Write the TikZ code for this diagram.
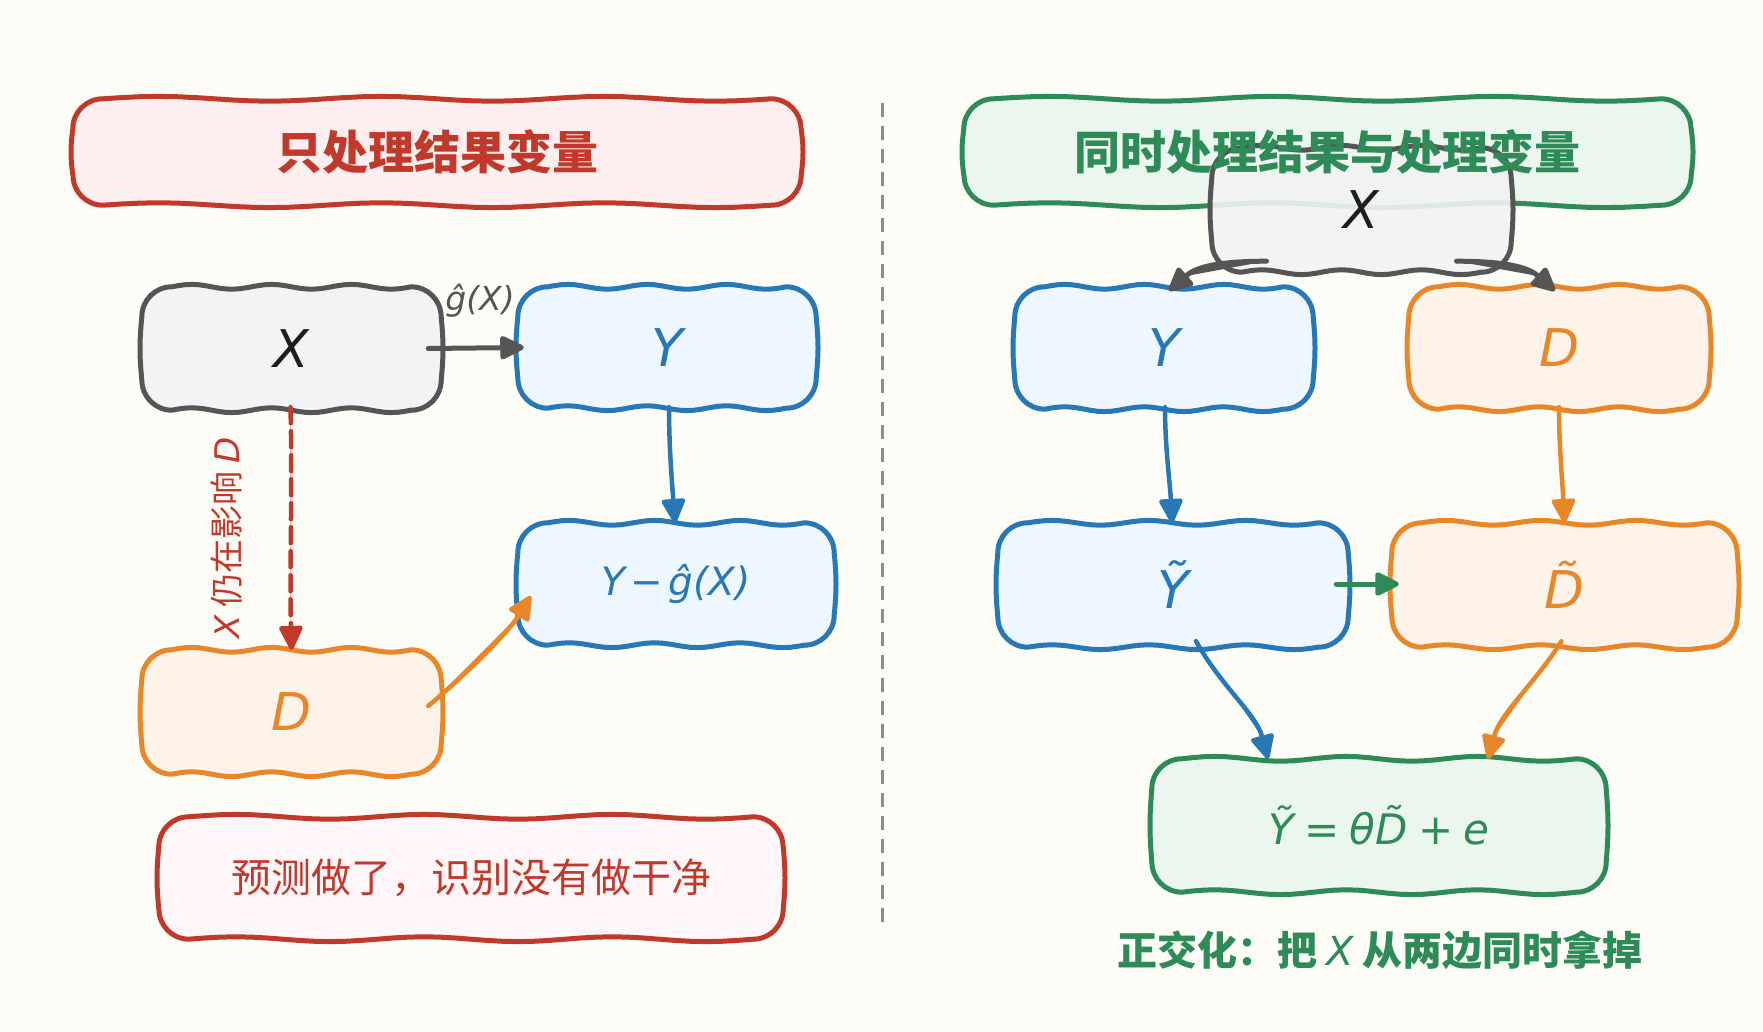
\documentclass[tikz,border=0pt]{standalone}
\usepackage{fontspec}
\setmainfont{DejaVu Sans}
\newfontfamily\cjk{Noto Sans CJK SC}
\usetikzlibrary{arrows.meta,calc}
\pgfdeclarelayer{bgl}
\pgfsetlayers{bgl,main}
\definecolor{bg}{HTML}{FDFCF7}
\definecolor{cred}{HTML}{C0392B}
\definecolor{credf}{HTML}{FDEFF0}
\definecolor{cnotef}{HTML}{FEF6F8}
\definecolor{cgray}{HTML}{555555}
\definecolor{cgrayf}{HTML}{F2F3F4}
\definecolor{ink}{HTML}{1E1E1E}
\definecolor{cblue}{HTML}{2878B5}
\definecolor{cbluef}{HTML}{EEF6FF}
\definecolor{corange}{HTML}{E8862A}
\definecolor{corangef}{HTML}{FEF3E8}
\definecolor{cgreen}{HTML}{2E8B57}
\definecolor{cgreenf}{HTML}{EAF6EE}
\definecolor{cdiv}{HTML}{8C8C8C}
\newcommand\mv[1]{{\rmfamily\mdseries\itshape #1}}
\newcommand\fs[1]{\fontsize{#1}{#1}\selectfont}
\newcommand\gsp{\hspace{0.14em}}
\newcommand\esp{\hspace{0.24em}}
% wavy rounded box drawn round an existing node
\newcommand\wbox[4][]{%
\begin{pgfonlayer}{bgl}
\path[draw=#3, fill=#4, line width=5pt, line join=round, #1]
 let \p1=(#2.north west), \p2=(#2.south east) in
 ({\x1},{\y1-30pt}) arc[start angle=180, end angle=90, radius=30pt]
 -- plot[variable=\t, domain=0:1, samples=37] ({\x1+30pt+(\x2-\x1-60pt)*\t}, {\y1+2.4pt*sin(1080*\t)})
 arc[start angle=90, end angle=0, radius=30pt]
 -- plot[variable=\t, domain=0:1, samples=15] ({\x2+1.8pt*sin(180*\t)}, {\y1-30pt-(\y1-\y2-60pt)*\t})
 arc[start angle=0, end angle=-90, radius=30pt]
 -- plot[variable=\t, domain=0:1, samples=37] ({\x2-30pt-(\x2-\x1-60pt)*\t}, {\y2-2.4pt*sin(1080*\t)})
 arc[start angle=270, end angle=180, radius=30pt]
 -- plot[variable=\t, domain=0:1, samples=15] ({\x1-1.8pt*sin(180*\t)}, {\y2+30pt+(\y1-\y2-60pt)*\t})
 -- cycle;
\end{pgfonlayer}}
\tikzset{
  bx/.style={inner sep=0pt, align=center},
  gtext/.style={bx, text=ink, font=\fs{52}\itshape},
  btext/.style={bx, text=cblue, font=\fs{52}\itshape},
  otext/.style={bx, text=corange, font=\fs{52}\itshape},
  arr/.style={line width=5pt, line cap=round, line join=round, -{Triangle[length=27pt,width=25pt,round]}},
  garr/.style={arr, draw=cgray, fill=cgray},
  barr/.style={arr, line width=4.5pt, draw=cblue, fill=cblue},
  oarr/.style={arr, line width=4.5pt, draw=corange, fill=corange},
  grarr/.style={arr, draw=cgreen, fill=cgreen},
  rdash/.style={arr, line width=4.5pt, draw=cred, fill=cred, dash pattern=on 16pt off 8pt},
}
\begin{document}
\begin{tikzpicture}[x=1pt,y=-1pt]
\begin{pgfonlayer}{bgl}
\fill[bg] (0,0) rectangle (1763,1032);
\end{pgfonlayer}
\useasboundingbox (0,0) rectangle (1763,1032);

% ---------- left half ----------
\node[bx, minimum width=728pt, minimum height=106pt, text=cred, font=\fs{46}\cjk\bfseries] (ltitle) at (437,152) {只处理结果变量};
\node[gtext, minimum width=299pt, minimum height=123pt] (xl) at (291.5,348.5) {X};
\node[btext, minimum width=298pt, minimum height=121pt] (yl) at (667,347.5) {Y};
\node[btext, minimum width=316pt, minimum height=122pt, font=\fs{39}\itshape] (rl) at (676,584) {Y\gsp−\gsp ĝ(X)};
\node[otext, minimum width=299pt, minimum height=124pt] (dl) at (291.5,712) {D};
\node[bx, minimum width=624pt, minimum height=122pt, text=cred, font=\fs{40}\cjk] (note) at (471,878) {预测做了，识别没有做干净};
\wbox{ltitle}{cred}{credf}
\wbox{xl}{cgray}{cgrayf}
\wbox{yl}{cblue}{cbluef}
\wbox{rl}{cblue}{cbluef}
\wbox{dl}{corange}{corangef}
\wbox{note}{cred}{cnotef}

\node[text=cgray, font=\fs{33}\itshape] (glab) at (480,301) {ĝ(X)};
\node[rotate=90, text=cred, font=\fs{34}\cjk] (lab) at (227,538) {\mv{X} 仍在影响 \mv{D}};

\draw[garr] ($(xl.east)+(-13,0)$) -- ($(yl.west)+(6,0)$);
\draw[barr] ($(yl.south)+(2,-1)$) .. controls +(0,40) and +(-3,-40) .. ($(rl.north)+(-1,0)$);
\draw[rdash] ($(xl.south)+(-1,-3)$) .. controls +(2,80) and +(-2,-80) .. (dl.north);
\draw[oarr] ($(dl.east)+(-13,-6)$) .. controls +(30,-25) and +(-25,40) .. ($(rl.west)+(13,12)$);

% divider
\coordinate (dtop) at (882,103);
\coordinate (dbot) at (882,929);
\draw[cdiv, line width=3pt, dash pattern=on 14pt off 9pt] (dtop) -- (dbot);

% ---------- right half ----------
\node[bx, minimum width=727pt, minimum height=106pt, text=cgreen, font=\fs{46}\cjk\bfseries] (rtitle) at (1327.5,152) {同时处理结果与处理变量};
\node[gtext, minimum width=299pt, minimum height=124pt] (xr) at (1361.5,210) {X};
\node[btext, minimum width=298pt, minimum height=122pt] (yr) at (1164,348) {Y};
\node[otext, minimum width=300pt, minimum height=122pt] (dr) at (1559,348) {D};
\node[btext, minimum width=350pt, minimum height=124pt] (ytr) at (1173,585) {Ỹ};
\node[otext, minimum width=345pt, minimum height=124pt] (dtr) at (1564.5,585) {D̃};
\node[bx, minimum width=454pt, minimum height=133pt, text=cgreen, font=\fs{42}\itshape] (eq) at (1379,825.5) {Ỹ\esp=\esp θD̃\esp+\esp e};
\node[text=cgreen, font=\fs{40}\cjk\bfseries] (cap) at (1380,950) {正交化：把 \mv{X} 从两边同时拿掉};
\wbox{rtitle}{cgreen}{cgreenf}
\wbox[fill opacity=0.9]{xr}{cgray}{cgrayf}
\wbox{yr}{cblue}{cbluef}
\wbox{dr}{corange}{corangef}
\wbox{ytr}{cblue}{cbluef}
\wbox{dtr}{corange}{corangef}
\wbox{eq}{cgreen}{cgreenf}

\draw[garr] ($(xr.south)+(-95,-11)$) .. controls +(-55,0) and +(25,-22) .. ($(yr.north)+(5,4)$);
\draw[garr] ($(xr.south)+(95,-11)$) .. controls +(55,0) and +(-25,-22) .. ($(dr.north)+(-4,4)$);
\draw[barr] ($(yr.south)+(1,-2)$) .. controls +(0,40) and +(-2,-40) .. ($(ytr.north)+(-1,0)$);
\draw[oarr] ($(dr.south)+(0,-2)$) .. controls +(0,40) and +(-2,-40) .. (dtr.north);
\draw[grarr] ($(ytr.east)+(-12,-1)$) -- ($(dtr.west)+(7,-1)$);
\draw[barr] ($(ytr.south)+(23,-6)$) .. controls +(25,45) and +(-12,-45) .. ($(eq.north)+(-111,0)$);
\draw[oarr] ($(dtr.south)+(-3,-6)$) .. controls +(-25,40) and +(12,-45) .. ($(eq.north)+(109,0)$);
\end{tikzpicture}
\end{document}
